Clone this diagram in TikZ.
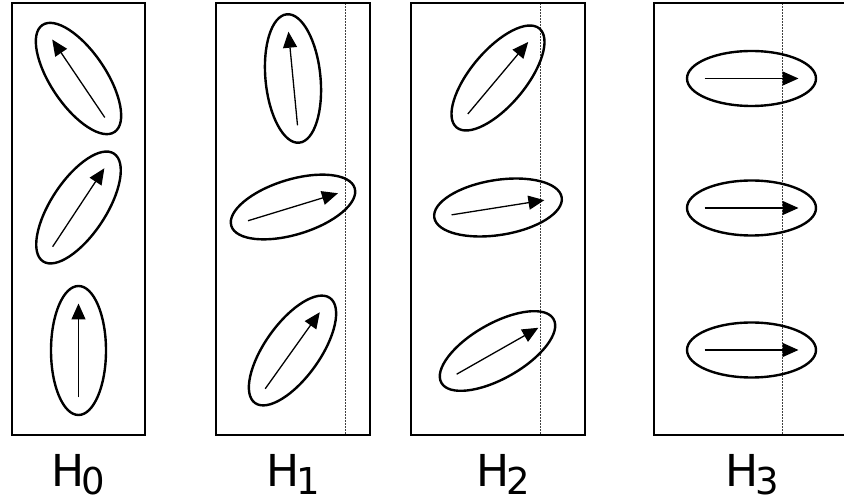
\documentclass[tikz,border=0pt]{standalone}
\usepackage{fontspec}
\setmainfont{DejaVu Sans}
\usetikzlibrary{shapes.geometric,arrows.meta,calc}
\tikzset{
  frame/.style={line width=2pt, draw=black},
  guide/.style={line width=0.8pt, draw=black!75, dash pattern=on 2pt off 1pt},
  molecule/.style={ellipse, draw=black, line width=2.4pt, inner sep=0pt,
    minimum width=129pt, minimum height=55pt},
  vec/.style={line width=1.3pt, -{Triangle[length=16pt,width=14pt]}},
  lbl/.style={anchor=base, inner sep=0pt, font=\fontsize{44}{44}\selectfont}
}
\newcommand{\mlabel}[1]{H\kern-3pt\raisebox{-8pt}{\fontsize{37}{37}\selectfont #1}}
\newcommand{\mol}[4]{%
  \node[molecule, rotate=#4] (#1) at (#2,#3) {};
  \draw[vec] ($(#1.center)+(#4+180:47pt)$) -- ($(#1.center)+(#4:47pt)$);
}
\begin{document}
\begin{tikzpicture}[x=1pt,y=1pt]
\useasboundingbox (0,0) rectangle (844,501);
% frames
\draw[frame] (12,66) rectangle (145,498);
\draw[frame] (216,66) rectangle (370,498);
\draw[frame] (411,66) rectangle (585,498);
\draw[frame] (846,498) -- (654,498) -- (654,66) -- (846,66);
% guide lines
\draw[guide] (345.5,67) -- (345.5,497);
\draw[guide] (540,67) -- (540,497);
\draw[guide] (782.5,67) -- (782.5,497);
% H0
\mol{a1}{78.5}{422.5}{124}
\mol{a2}{78.5}{293.5}{56.6}
\mol{a3}{78.5}{150.5}{90}
% H1
\mol{b1}{293}{422.5}{95.5}
\mol{b2}{293}{294}{17}
\mol{b3}{292.5}{150.5}{54.5}
% H2
\mol{c1}{498}{423}{50}
\mol{c2}{498}{293.5}{9}
\mol{c3}{497.5}{150}{29.6}
% H3
\mol{d1}{751.5}{422.5}{0}
\mol{d2}{751.5}{293}{0}
\mol{d3}{751.5}{151}{0}
% labels
\node[lbl] (l0) at (78.5,14) {\mlabel{0}};
\node[lbl] (l1) at (293.5,14) {\mlabel{1}};
\node[lbl] (l2) at (503,14) {\mlabel{2}};
\node[lbl] (l3) at (752.5,14) {\mlabel{3}};
\end{tikzpicture}
\end{document}
